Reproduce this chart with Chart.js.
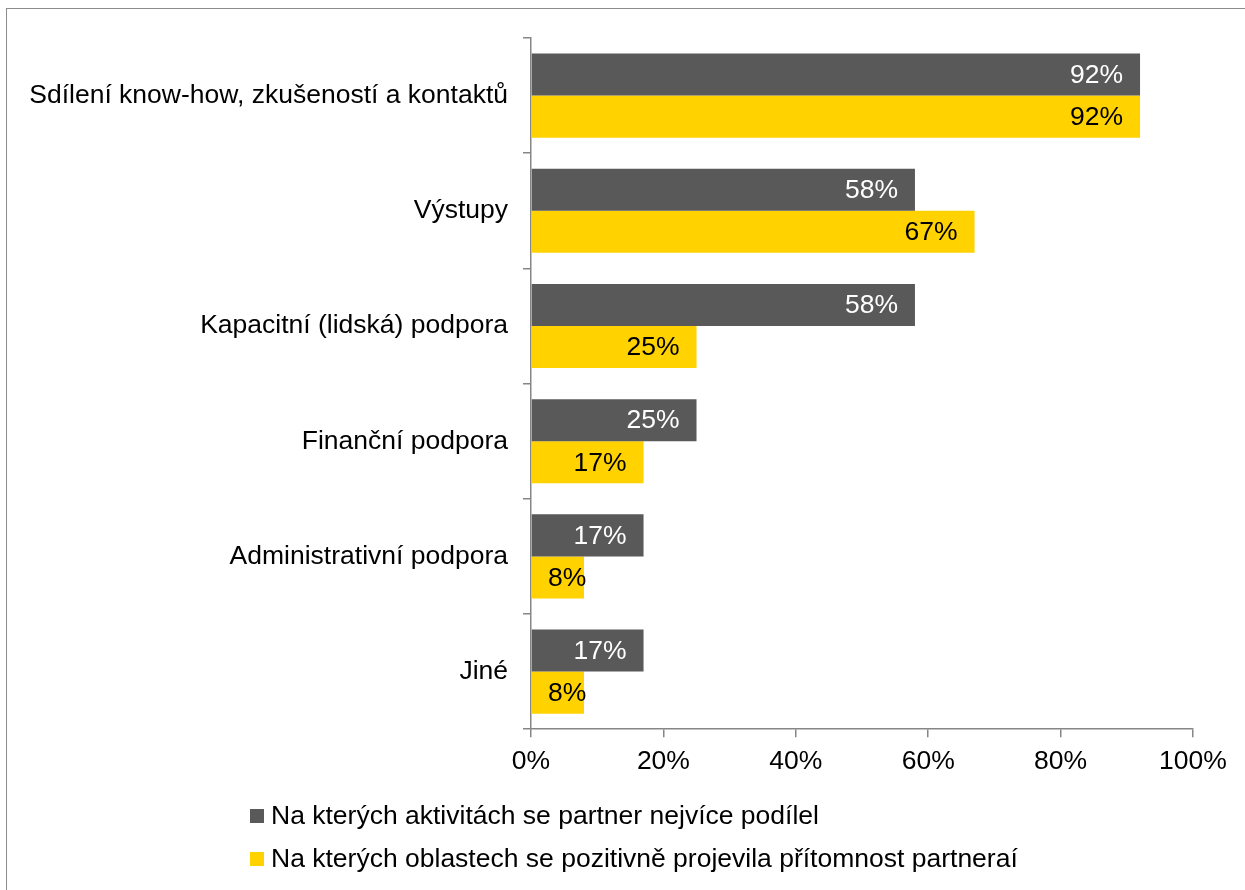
<!DOCTYPE html>
<html>
<head>
<meta charset="utf-8">
<script src="https://cdn.jsdelivr.net/npm/chart.js@4"></script>
<style>
  body { margin: 0; background: #fff; font-family: "Liberation Sans", Arial, sans-serif; }
  #wrap { position: relative; width: 1245px; height: 890px; overflow: hidden; }
  #frame { position: absolute; left: 6px; top: 8px; width: 1260px; height: 900px; border: 1px solid #8c8c8c; box-sizing: border-box; }
  #c1 { position: absolute; left: 0; top: 0; }
  #lg { position: absolute; left: 250px; top: 800px; font-size: 26.5px; color: #000; }
  #lg div { height: 43px; display: flex; align-items: flex-start; }
  #lg span.sw { display: inline-block; width: 14px; height: 14px; margin: 9px 7px 0 0; }
</style>
</head>
<body>
<div id="wrap">
  <div id="frame"></div>
  <canvas id="c1" width="1245" height="890"></canvas>
  <div id="lg"></div>
</div>
<script>
let cats = ["Sdílení know-how, zkušeností a kontaktů", "Výstupy", "Kapacitní (lidská) podpora", "Finanční podpora", "Administrativní podpora", "Jiné"];
let s1name = "Na kterých aktivitách se partner nejvíce podílel";
let s2name = "Na kterých oblastech se pozitivně projevila přítomnost partneraí";
let s1 = [92, 58, 58, 25, 17, 17];
let s2 = [92, 67, 25, 17, 8, 8];
let xticks = [0, 20, 40, 60, 80, 100];

let dark = "#595959";
let yel = "#FFD200";
let axc = "#868686";
let fnt = { family: "'Liberation Sans', Arial, sans-serif", size: 26.5 };

// labels drawn inside the bar ends, kept off the axis
let barLabels = {
    id: 'barLabels',
    afterDatasetsDraw(chart) {
        let ctx = chart.ctx;
        let left = chart.chartArea.left;
        ctx.save();
        ctx.font = "26.5px 'Liberation Sans', Arial, sans-serif";
        ctx.textAlign = 'left';
        ctx.textBaseline = 'middle';
        chart.data.datasets.forEach((ds, i) => {
            chart.getDatasetMeta(i).data.forEach((bar, j) => {
                let t = ds.data[j] + '%';
                let w = ctx.measureText(t).width;
                let x = Math.max(bar.x - 17 - w, left + 17);
                ctx.fillStyle = i == 0 ? '#fff' : '#000';
                ctx.fillText(t, x, bar.y + 1);
            });
        });
        ctx.restore();
    }
};

let c1 = document.querySelector('#c1');
let opts = {
    type: 'bar',
    data: {
        labels: cats,
        datasets: [
            { label: s1name, data: s1, backgroundColor: dark },
            { label: s2name, data: s2, backgroundColor: yel }
        ]
    },
    options: {
        indexAxis: 'y',
        responsive: false,
        animation: false,
        categoryPercentage: 0.73,
        barPercentage: 1,
        layout: { padding: { top: 38, right: 52, bottom: 103, left: 0 } },
        plugins: { legend: { display: false }, tooltip: { enabled: false } },
        scales: {
            x: {
                min: 0, max: 100,
                afterBuildTicks: s => { s.ticks = xticks.map(v => ({ value: v })); },
                ticks: { color: '#000', font: fnt, padding: 9, callback: v => v + '%' },
                grid: { drawOnChartArea: false, color: axc, lineWidth: 1.5, tickLength: 8 },
                border: { color: axc, width: 1.5 }
            },
            y: {
                afterFit: s => { s.width = 531; },
                ticks: { color: '#000', font: fnt, padding: 15 },
                grid: { drawOnChartArea: false, color: axc, lineWidth: 1.5, tickLength: 8, offset: true },
                border: { color: axc, width: 1.5 }
            }
        }
    },
    plugins: [barLabels]
};
let chart1 = new Chart(c1, opts);

let lg = document.querySelector('#lg');
lg.innerHTML = chart1.data.datasets.map(d =>
    `<div><span class="sw" style="background:${d.backgroundColor}"></span>${d.label}</div>`).join('');
</script>
</body>
</html>
